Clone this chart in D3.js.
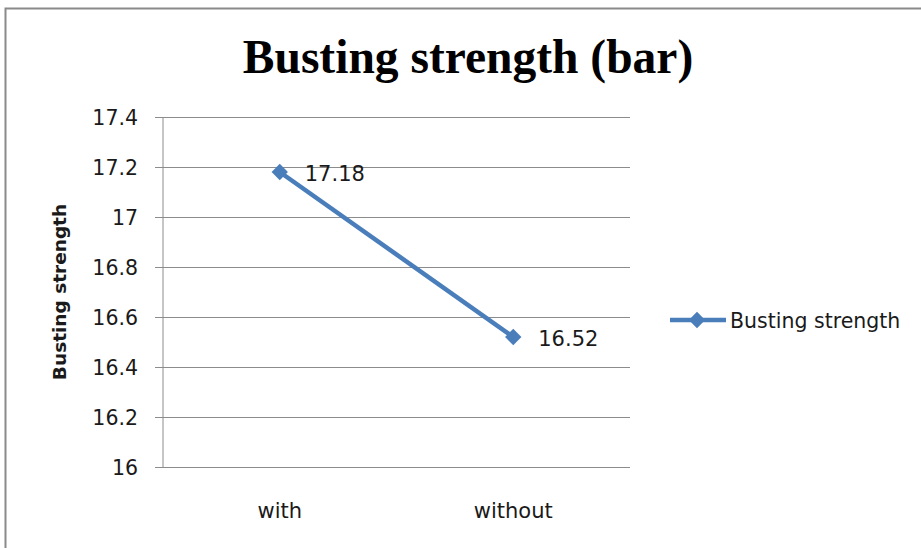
<!DOCTYPE html>
<html>
<head>
<meta charset="utf-8">
<script src="https://cdn.jsdelivr.net/npm/d3@7"></script>
<style>
  html, body { margin: 0; padding: 0; background: #fff; }
  svg { display: block; }
  text { font-family: "DejaVu Sans", sans-serif; fill: #1a1a1a; }
</style>
</head>
<body>
<svg id="chart" width="921" height="548"></svg>
<script>
const categories = ["with", "without"];
const values = [17.18, 16.52];
const yTicks = [16, 16.2, 16.4, 16.6, 16.8, 17, 17.2, 17.4];
const seriesName = "Busting strength";
const chartTitle = "Busting strength (bar)";
const yTitle = "Busting strength";

const svg = d3.select("#chart");
const W = 921, H = 548;
const plot = { left: 163, right: 630, top: 117, bottom: 467 };
const lineColor = "#4a7ebb";
const gridColor = "#8c8c8c";
const bodySize = "20.5px";

// outer chart frame
svg.append("rect")
  .attr("x", 5.5).attr("y", 8.5)
  .attr("width", W + 10).attr("height", H + 10)
  .attr("fill", "#fff").attr("stroke", "#8a8a8a").attr("stroke-width", 2);

const x = d3.scaleBand().domain(categories).range([plot.left, plot.right]);
const y = d3.scaleLinear().domain([16, 17.4]).range([plot.bottom, plot.top]);

// title
svg.append("text")
  .attr("x", 468).attr("y", 73)
  .attr("text-anchor", "middle")
  .style("font-family", "'Liberation Serif', 'Times New Roman', serif")
  .style("font-weight", "bold").style("font-size", "47.5px")
  .style("fill", "#000")
  .text(chartTitle);

// y axis with gridlines
const yAxis = d3.axisLeft(y).tickValues(yTicks)
  .tickSize(-(plot.right - plot.left)).tickSizeOuter(0)
  .tickFormat(d => d3.format("~g")(d));
const gy = svg.append("g").attr("transform", `translate(${plot.left},0)`).call(yAxis);
gy.select(".domain").remove();
gy.selectAll(".tick line").attr("stroke", gridColor).attr("x1", -8);
gy.selectAll(".tick text").attr("x", -25).attr("dy", "0.36em")
  .style("font-size", bodySize).style("font-family", "'DejaVu Sans', sans-serif").attr("fill", "#1a1a1a");
svg.append("line")
  .attr("x1", plot.left).attr("x2", plot.left)
  .attr("y1", plot.top).attr("y2", plot.bottom)
  .attr("stroke", gridColor);

// x axis labels
const xAxis = d3.axisBottom(x).tickSize(0).tickPadding(36);
const gx = svg.append("g").attr("transform", `translate(0,${plot.bottom})`).call(xAxis);
gx.select(".domain").remove();
gx.selectAll(".tick text").style("font-size", "21px").style("font-family", "'DejaVu Sans', sans-serif").attr("fill", "#1a1a1a");

// y title
svg.append("text")
  .attr("transform", `translate(66,292) rotate(-90)`)
  .attr("text-anchor", "middle")
  .style("font-weight", "bold").style("font-size", "18.5px")
  .text(yTitle);

// series line
const pts = categories.map((c, i) => [x(c) + x.bandwidth() / 2, y(values[i])]);
svg.append("path")
  .attr("d", d3.line()(pts))
  .attr("fill", "none").attr("stroke", lineColor).attr("stroke-width", 4.5);

const diamond = d3.symbol().type(d3.symbolDiamond2).size(170);
svg.selectAll(".marker").data(pts).join("path")
  .attr("class", "marker")
  .attr("transform", d => `translate(${d[0]},${d[1]})`)
  .attr("d", diamond).attr("fill", lineColor);

// data labels
svg.selectAll(".dlabel").data(pts).join("text")
  .attr("class", "dlabel")
  .attr("x", d => d[0] + 25).attr("y", d => d[1] + 9)
  .style("font-size", "21px")
  .text((d, i) => d3.format(".2f")(values[i]));

// legend
const lg = svg.append("g").attr("transform", "translate(670,320)");
lg.append("line").attr("x1", 0).attr("x2", 56).attr("stroke", lineColor).attr("stroke-width", 4.5);
lg.append("path").attr("transform", "translate(27,0)").attr("d", diamond).attr("fill", lineColor);
lg.append("text").attr("x", 60).attr("y", 8).style("font-size", bodySize).text(seriesName);
</script>
</body>
</html>
